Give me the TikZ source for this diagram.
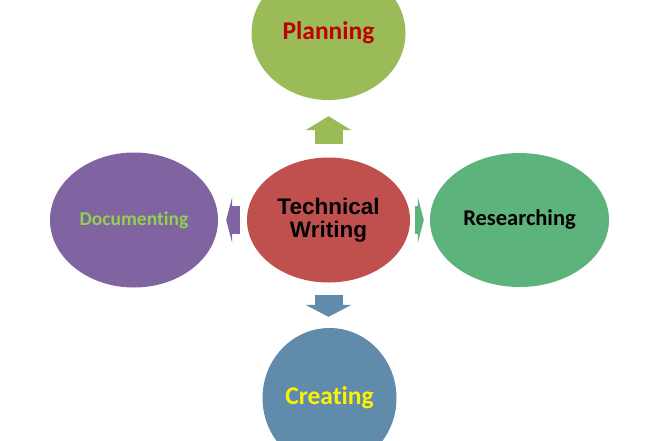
\documentclass[tikz,border=0pt]{standalone}
\usepackage{fontspec}
\setmainfont{Carlito}[Ligatures=CommonOff]
\newfontfamily\arialfont{Liberation Sans}
\usetikzlibrary{shapes.geometric,arrows.meta}
\usepackage{xcolor}
\definecolor{plangreen}{RGB}{155, 187, 89}
\definecolor{techred}{RGB}{192, 80, 77}
\definecolor{docpurple}{RGB}{128, 100, 162}
\definecolor{resgreen}{RGB}{92, 179, 124}
\definecolor{creblue}{RGB}{96, 139, 171}
\definecolor{darkred}{RGB}{192, 0, 0}
\definecolor{limegreen}{RGB}{146, 208, 80}

\begin{document}
\begin{tikzpicture}[x=1pt, y=-1pt,
    bubble/.style={ellipse, inner sep=0pt, font=\bfseries},
    blockarrow/.style={line width=28pt, -{Triangle[width=46pt, length=#1, line width=0pt]}}]
    \useasboundingbox (0,0) rectangle (660,440);
    \clip (0,0) rectangle (660,440);
    \node[bubble, fill=techred, minimum width=163pt, minimum height=125pt, align=center, font=\arialfont\bfseries\fontsize{22.5}{23.5}\selectfont] (tech) at (328.5,220) {Technical\\Writing};
    \node[bubble, fill=plangreen, minimum width=154pt, minimum height=134pt, text=darkred, font=\bfseries\fontsize{25.5}{28}\selectfont] (plan) at (328.5,33) {Planning};
    \node[bubble, fill=docpurple, minimum width=168pt, minimum height=135pt, text=limegreen, font=\bfseries\fontsize{19.5}{22}\selectfont] (doc) at (134,220) {Documenting};
    \node[bubble, fill=resgreen, minimum width=179pt, minimum height=134pt, font=\bfseries\fontsize{22.5}{25}\selectfont] (res) at (519.5,220) {Researching};
    \node[bubble, fill=creblue, minimum width=134pt, minimum height=140pt, text=yellow, font=\bfseries\fontsize{25.5}{28}\selectfont] (cre) at (329.5,398) {Creating};

    \draw[blockarrow=14pt, plangreen, shorten <=13pt, shorten >=16pt] (tech.north) -- (tech.north |- plan.south);
    \draw[blockarrow=6pt, docpurple, shorten <=7pt, shorten >=8pt] (tech.west) -- (tech.west -| doc.east);
    \draw[blockarrow=6pt, resgreen, shorten <=5pt, shorten >=6pt] (tech.east) -- (tech.east -| res.west);
    \draw[blockarrow=12pt, creblue, shorten <=12pt, shorten >=11pt] (tech.south) -- (tech.south |- cre.north);
\end{tikzpicture}
\end{document}
